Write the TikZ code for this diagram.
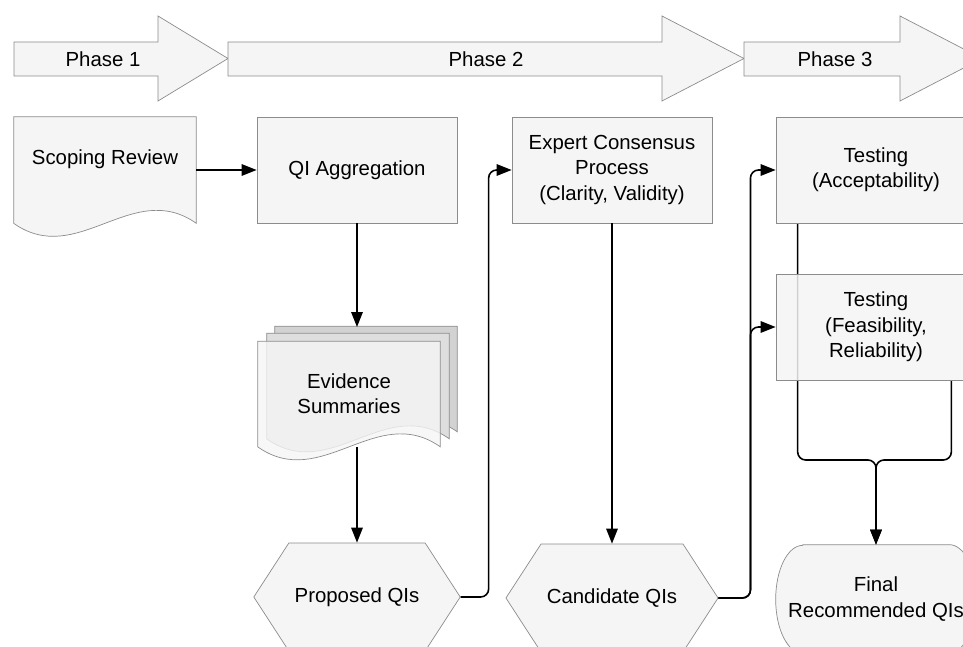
\documentclass[tikz,border=0pt]{standalone}
\usepackage{fontspec}
\setmainfont{Liberation Sans}
\usetikzlibrary{shapes.geometric, shapes.symbols, arrows.meta, backgrounds, calc}
\definecolor{boxfill}{HTML}{F5F5F5}
\definecolor{boxline}{HTML}{8C8C8C}
\definecolor{sheetback}{HTML}{D2D2D2}
\definecolor{sheetmid}{HTML}{DEDEDE}
\tikzstyle{phase} = [draw=boxline, fill=boxfill]
\tikzstyle{process} = [rectangle, minimum width=4cm, minimum height=2.12cm, align=center, draw=boxline, fill=boxfill]
\tikzstyle{doc} = [rectangle, minimum width=3.64cm, minimum height=2.12cm, align=center]
\tikzstyle{hexa} = [signal, signal to=west and east, signal pointer angle=114, minimum width=4cm, minimum height=2.16cm, draw=boxline, fill=boxfill]
\tikzstyle{terminal} = [rectangle, minimum width=4cm, minimum height=2.16cm, align=center]
\tikzstyle{arrow} = [line width=0.9pt, ->, >={Triangle[length=0.3cm, width=0.23cm]}]
\tikzstyle{link} = [arrow, rounded corners=0.16cm]

% document with a wavy bottom, drawn round node #2
\newcommand{\docshape}[3][]{%
  \path[draw=boxline, fill=#3, #1] (#2.north west) -- (#2.north east) -- (#2.south east)
    .. controls ($(#2.south east)!0.35!(#2.south west)+(0cm,0.9cm)$)
    and ($(#2.south east)!0.65!(#2.south west)+(0cm,-0.9cm)$) .. (#2.south west) -- cycle;}

\begin{document}
\begin{tikzpicture}[x=0.02cm, y=0.02cm, font=\fontsize{11.6}{14.4}\selectfont]
\useasboundingbox (0,0) rectangle (963,646);

% phase banner
\foreach \a/\b/\c in {14/158/228, 228/662/744, 744/900/982}
  \draw[phase] (\a,570) -- (\b,570) -- (\b,545) -- (\c,587.5) -- (\b,630) -- (\b,604) -- (\a,604) -- cycle;
\node (ph1) at (103,587) {Phase 1};
\node (ph2) at (486,587) {Phase 2};
\node (ph3) at (835,587) {Phase 3};

\node (scoping) [doc, text depth=15pt] at (105,476) {Scoping Review};
\node (qiagg) [process] at (357,476) {QI Aggregation};
\node (evidence) [doc, minimum height=2.1cm] at (349,252) {Evidence\\Summaries};
\node (proposed) [hexa] at (357,49) {Proposed QIs};

\node (expert) [process] at (612,476) {Expert Consensus\\Process\\(Clarity, Validity)};
\node (candidate) [hexa] at (612,48) {Candidate QIs};

\node (accept) [process] at (876,476) {Testing\\(Acceptability)};
\node (feas) [process, fill opacity=0.85, text opacity=1] at (876,319) {Testing\\(Feasibility,\\Reliability)};
\node (final) [terminal] at (876,47) {Final\\Recommended QIs};

\begin{scope}[on background layer]
  \docshape{scoping}{boxfill}
  \docshape[transform canvas={xshift=0.34cm, yshift=0.3cm}]{evidence}{sheetback}
  \docshape[transform canvas={xshift=0.18cm, yshift=0.16cm}]{evidence}{sheetmid}
  \docshape[fill opacity=0.8]{evidence}{boxfill}
  \path[draw=boxline, fill=boxfill] ([xshift=0.54cm]final.north west) -- ([xshift=-0.54cm]final.north east)
    arc[start angle=90, end angle=-90, x radius=0.54cm, y radius=1.08cm]
    -- ([xshift=0.54cm]final.south west)
    arc[start angle=270, end angle=90, x radius=0.54cm, y radius=1.08cm] -- cycle;
  % both testing lines meet above the final box
  \coordinate (merge) at (876,186);
  \draw[link] ([xshift=0.44cm]accept.south west) |- (merge) -- (final.north);
  \draw[link] ([xshift=-0.5cm]feas.south east) |- (merge) -- (final.north);
\end{scope}

\coordinate (stacktop) at (357,319);
\draw [arrow] (scoping.east) -- (qiagg.west);
\draw [arrow] (qiagg.south) -- (stacktop);
\draw [arrow] (proposed.north |- evidence.south) -- (proposed.north);
\draw [link] (proposed.east) -- ++(28,0) |- (expert.west);
\draw [arrow] (expert.south) -- (candidate.north);
\draw [link] (candidate.east) -- ++(32,0) |- (accept.west);
\draw [link] (candidate.east) -- ++(32,0) |- (feas.west);

\end{tikzpicture}
\end{document}
